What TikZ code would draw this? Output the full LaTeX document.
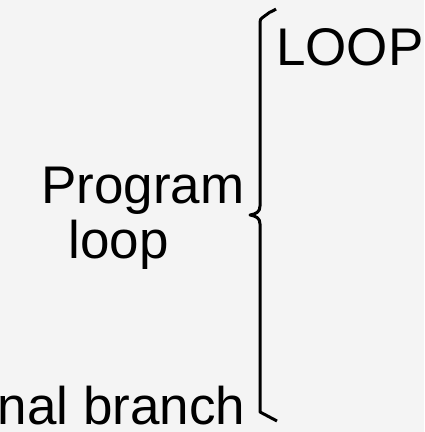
\documentclass[tikz,border=0pt]{standalone}
\usepackage{fontspec}
\setmainfont{Liberation Sans}
\usepackage{tikz}
\usetikzlibrary{positioning}

\definecolor{paper}{HTML}{F4F4F4}

\begin{document}
\begin{tikzpicture}[x=1pt, y=-1pt,
  brace line/.style={line width=3pt, line join=round, line cap=butt},
  main label/.style={font=\fontsize{53}{58}\selectfont, inner sep=0pt}]

\fill[paper] (0,0) rectangle (424,432);
\useasboundingbox (0,0) rectangle (424,432);

\node[main label, anchor=base west] (loop) at (276,65) {LOOP};
\node[main label, anchor=base west] (program) at (41,203) {Program};
\node[main label, anchor=base west] (prog loop) at (68.5,258) {loop};
\node[main label, anchor=base east, text depth=0pt] (branch) at (245.7,424) {nal branch};

% the brace
\coordinate (top tip) at (276,9);
\coordinate (mid tip) at (250,215);
\coordinate (bottom tip) at (277,421);

\draw[brace line] (top tip) .. controls (270,13) and (268,12) .. (266,15)
  .. controls (264,18) and (260,17) .. (260,22) -- (260,206)
  .. controls (260,212) and (256,214) .. (mid tip)
  .. controls (256,216) and (260,218) .. (260,224) -- (260,412) -- (bottom tip);
\end{tikzpicture}
\end{document}
